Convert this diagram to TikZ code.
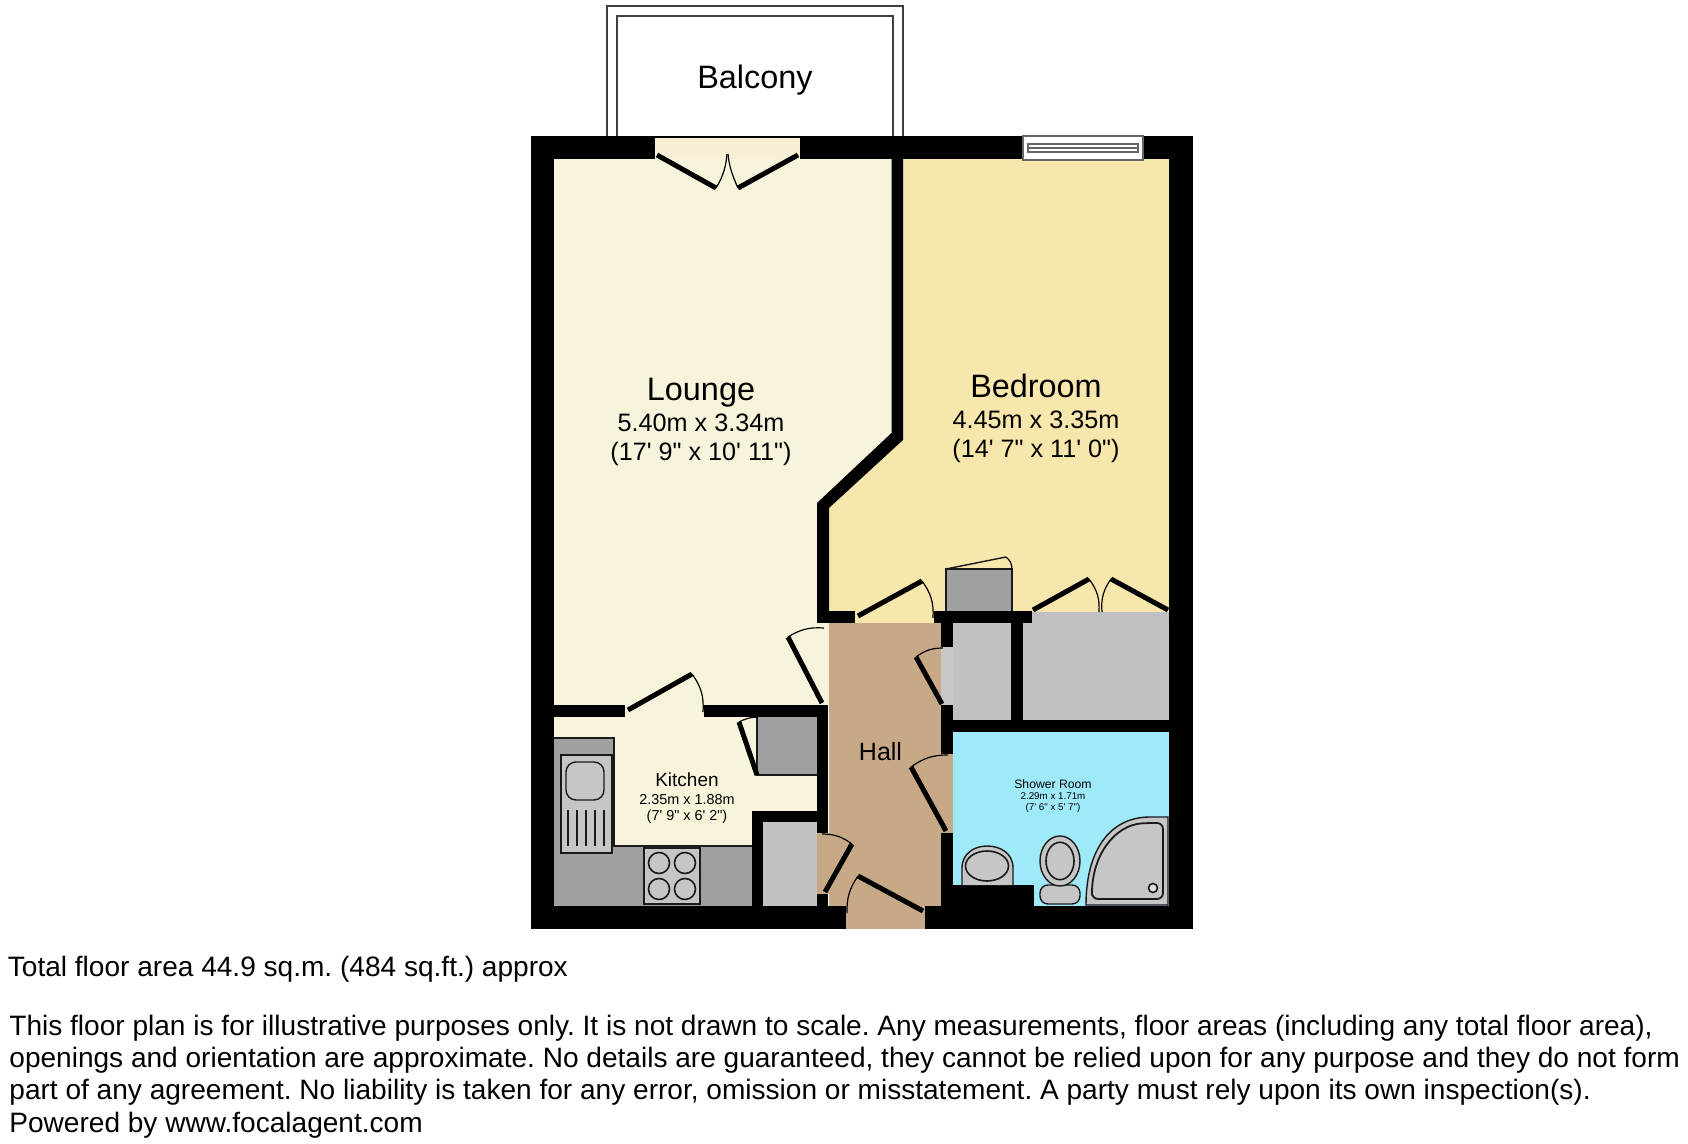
\documentclass[tikz,border=0pt]{standalone}
\usepackage{fontspec}
\newfontfamily\plainsans{Liberation Sans}
\definecolor{lounge}{HTML}{F8F4DC}
\definecolor{loungedoor}{HTML}{F6F1D6}
\definecolor{bedroom}{HTML}{F8E7AC}
\definecolor{hallc}{HTML}{C7A987}
\definecolor{showerc}{HTML}{9EEAF8}
\definecolor{unitgrey}{HTML}{A0A0A0}
\definecolor{cupgrey}{HTML}{C2C2C2}
\definecolor{cuplight}{HTML}{C8C8C8}
\definecolor{cupstrip}{HTML}{C0C0C4}
\definecolor{fitgrey}{HTML}{C6C6C6}
\definecolor{inkc}{HTML}{1A1A1A}
\tikzset{
  wall/.style={fill=black,draw=none},
  doorleaf/.style={draw=black,line width=2.5pt,line cap=butt},
  doorarc/.style={draw=black,line width=0.6pt},
  fitting/.style={draw=inkc,line width=0.7pt,fill=fitgrey},
  unit/.style={fill=unitgrey,draw=none},
  rail/.style={draw=black!75,line width=0.8pt},
  roomtext/.style={anchor=base,align=center,inner sep=0pt,text=black},
  foot/.style={anchor=base west,inner sep=0pt,font=\fontsize{14.03}{16}\selectfont,text=black},
  every node/.append style={execute at begin node={\plainsans\frenchspacing}}
}
\begin{document}
\begin{tikzpicture}[x=0.5pt,y=-0.5pt]
\useasboundingbox (0,0) rectangle (1688,1144);
% floors
\fill[lounge] (554,159) -- (892,159) -- (892,433) -- (817,505) -- (817,705) -- (554,705) -- cycle;
\fill[lounge] (554,705) rectangle (817,906);
\fill[loungedoor] (655,138) rectangle (800,159);
\fill[bedroom] (903,159) -- (1169,159) -- (1169,612) -- (1032,612) -- (1032,623) -- (829,623) -- (829,508) -- (903,440) -- cycle;
\fill[lounge] (817,623) rectangle (829,705);
\fill[hallc] (829,623) rectangle (941,906);
\fill[hallc] (941,754) rectangle (953,833);
\fill[hallc] (817,833) rectangle (829,894);
\fill[hallc] (846,906) rectangle (925,929);
\fill[showerc] (953,732) rectangle (1169,906);
\fill[cuplight] (941,647) rectangle (953,705);
\fill[cupgrey] (953,623) rectangle (1011,720);
\fill[cupgrey] (1023,623) rectangle (1169,720);
\fill[cupstrip] (1032,612) rectangle (1169,623);
\fill[cupgrey] (763,822) rectangle (817,906);
% balcony
\draw[rail] (607,136) -- (607,6) -- (903,6) -- (903,136);
\draw[rail] (617,136) -- (617,16) -- (893,16) -- (893,136);
% outer walls
\fill[wall] (531,136) rectangle (1193,138);
\fill[wall] (531,136) rectangle (655,159);
\fill[wall] (800,136) rectangle (1193,159);
\fill[wall] (531,136) rectangle (554,929);
\fill[wall] (1169,136) rectangle (1193,929);
\fill[wall] (531,906) rectangle (846,929);
\fill[wall] (925,906) rectangle (1193,929);
% lounge / bedroom wall
\fill[wall] (891.5,159) -- (903,159) -- (903,440) -- (829,508) -- (829,623) -- (817,623) -- (817,503) -- (891.5,433) -- cycle;
\fill[wall] (817,611) rectangle (855,623);
\fill[wall] (934,611) rectangle (1032,623);
% kitchen walls
\fill[wall] (554,705) rectangle (625,717);
\fill[wall] (704,705) rectangle (828,717);
\fill[wall] (817,705) rectangle (828,833);
\fill[wall] (817,894) rectangle (828,906);
\fill[wall] (752,811) rectangle (817,822);
\fill[wall] (752,811) rectangle (763,906);
% hall east walls
\fill[wall] (941,623) rectangle (953,647);
\fill[wall] (941,705) rectangle (953,754);
\fill[wall] (941,833) rectangle (953,906);
\fill[wall] (953,885) rectangle (1034,906);
\fill[wall] (953,720) rectangle (1169,732);
\fill[wall] (1011,623) rectangle (1023,720);
% kitchen units
\fill[unit] (554,738) rectangle (614,906);
\fill[unit] (554,846) rectangle (752,906);
\draw[inkc,line width=0.7pt] (554,738) -- (614,738) -- (614,846) -- (752,846);
\draw[fitting] (561,755) rectangle (612,853);
\draw[fitting,rounded corners=5pt] (566,762) rectangle (604,800);
\foreach \lx in {568,577,586,595,604} \draw[inkc,line width=0.8pt] (\lx,810) -- (\lx,846);
\draw[fitting] (644,848) rectangle (700,904);
\foreach \cx/\cy in {659/863,685/863,659/889,685/889}
  \draw[inkc,line width=0.8pt] (\cx,\cy) circle [radius=10.5];
\fill[unit] (757,717) rectangle (817,775);
\draw[inkc,line width=0.7pt] (757,717) -- (757,775) -- (817,775);
% wardrobe
\fill[unit] (946,569) rectangle (1012,611);
\draw[inkc,line width=0.7pt] (946,611) -- (946,569) -- (1012,569) -- (1012,611);
\draw[inkc,line width=0.7pt] (946,569) -- (1006,557);
\draw[doorarc] (1006,557) to[bend left=25] (1012,569);
% window
\draw[fill=white,draw=black!60,line width=0.7pt] (1023,136) rectangle (1143,160);
\draw[draw=black!60,line width=0.6pt] (1028,144) rectangle (1138,152);
\draw[draw=black!60,line width=0.6pt] (1028,148) -- (1138,148);
% doors
\draw[doorleaf] (657,155) -- (716,188);
\draw[doorarc] (716,188) .. controls (724,175) and (726,165) .. (727,154);
\draw[doorleaf] (798,155) -- (738,188);
\draw[doorarc] (738,188) .. controls (732,175) and (729,165) .. (728,154);
\draw[doorleaf] (822,703) -- (788,637);
\draw[doorarc] (788,637) to[bend left=18] (824,628);
\draw[doorleaf] (628,710) -- (692,674);
\draw[doorarc] (692,674) to[bend left=20] (703,712);
\draw[doorleaf] (757,775) -- (739,722);
\draw[doorarc] (739,722) to[bend left=12] (757,717);
\draw[doorleaf] (825,892) -- (852,844);
\draw[doorarc] (852,844) to[bend right=18] (822,834);
\draw[doorleaf] (923,911) -- (858,876);
\draw[doorarc] (858,876) to[bend right=18] (847,913);
\draw[doorleaf] (858,616) -- (922,581);
\draw[doorarc] (922,581) to[bend left=20] (933,618);
\draw[doorleaf] (942,704) -- (916,657);
\draw[doorarc] (916,657) to[bend left=18] (943,648);
\draw[doorleaf] (946,831) -- (911,767);
\draw[doorarc] (911,767) to[bend left=18] (948,755);
\draw[doorleaf] (1033,610) -- (1089,579);
\draw[doorarc] (1089,579) to[bend left=20] (1099,612);
\draw[doorleaf] (1168,610) -- (1111,579);
\draw[doorarc] (1111,579) to[bend right=20] (1102,612);
% shower room fittings
\draw[fitting] (962,885) -- (962,868) .. controls (962,853) and (975,846) .. (987,846) .. controls (1000,846) and (1013,853) .. (1013,868) -- (1013,885);
\draw[inkc,line width=0.8pt] (987,866) ellipse [x radius=21.5,y radius=15];
\draw[fitting,rounded corners=4pt] (1040,885) rectangle (1080,904);
\draw[fitting] (1060,861) ellipse [x radius=20,y radius=25];
\draw[inkc,line width=0.8pt] (1060,861) ellipse [x radius=14,y radius=18.7];
\draw[fitting] (1086,905) -- (1168,905) -- (1168,817) -- (1150,817) .. controls (1110,817) and (1086,850) .. (1086,905) -- cycle;
\draw[inkc,line width=0.9pt,rounded corners=3pt] (1092,899) -- (1163,899) -- (1163,823) -- (1148,823) .. controls (1115,825) and (1092,855) .. (1092,899) -- cycle;
\draw[fill=white!40!fitgrey,draw=inkc,line width=0.8pt] (1153,888) circle [radius=4.5];
% labels
\node[roomtext,font=\fontsize{16.2}{18}\selectfont] (balconylabel) at (755,89) {Balcony};
\node[roomtext,font=\fontsize{16.2}{18}\selectfont] (loungelabel) at (701,401) {Lounge};
\node[roomtext,font=\fontsize{12.6}{15}\selectfont] (loungedim1) at (701,432) {5.40m x 3.34m};
\node[roomtext,font=\fontsize{12.6}{15}\selectfont] (loungedim2) at (701,461) {(17' 9" x 10' 11")};
\node[roomtext,font=\fontsize{16.2}{18}\selectfont] (bedroomlabel) at (1036,398) {Bedroom};
\node[roomtext,font=\fontsize{12.6}{15}\selectfont] (bedroomdim1) at (1036,429) {4.45m x 3.35m};
\node[roomtext,font=\fontsize{12.6}{15}\selectfont] (bedroomdim2) at (1036,458) {(14' 7" x 11' 0")};
\node[roomtext,font=\fontsize{9.5}{11}\selectfont] (kitchenlabel) at (687,786) {Kitchen};
\node[roomtext,font=\fontsize{7.2}{9}\selectfont] (kitchendim1) at (687,804) {2.35m x 1.88m};
\node[roomtext,font=\fontsize{7.2}{9}\selectfont] (kitchendim2) at (687,820) {(7' 9" x 6' 2")};
\node[roomtext,font=\fontsize{12.5}{14}\selectfont] (halllabel) at (880.5,760) {Hall};
\node[roomtext,font=\fontsize{6.1}{7}\selectfont] (showerlabel) at (1053,788) {Shower Room};
\node[roomtext,font=\fontsize{4.9}{6}\selectfont] (showerdim1) at (1053,799) {2.29m x 1.71m};
\node[roomtext,font=\fontsize{4.9}{6}\selectfont] (showerdim2) at (1053,810) {(7' 6" x 5' 7")};
\node[foot] (area) at (7.5,976) {Total floor area 44.9 sq.m. (484 sq.ft.) approx};
\node[foot] (disc1) at (9,1035) {This floor plan is for illustrative purposes only. It is not drawn to scale. Any measurements, floor areas (including any total floor area),};
\node[foot] (disc2) at (9,1067) {openings and orientation are approximate. No details are guaranteed, they cannot be relied upon for any purpose and they do not form};
\node[foot] (disc3) at (9,1099) {part of any agreement. No liability is taken for any error, omission or misstatement. A party must rely upon its own inspection(s).};
\node[foot] (disc4) at (9,1132) {Powered by www.focalagent.com};
\end{tikzpicture}
\end{document}
